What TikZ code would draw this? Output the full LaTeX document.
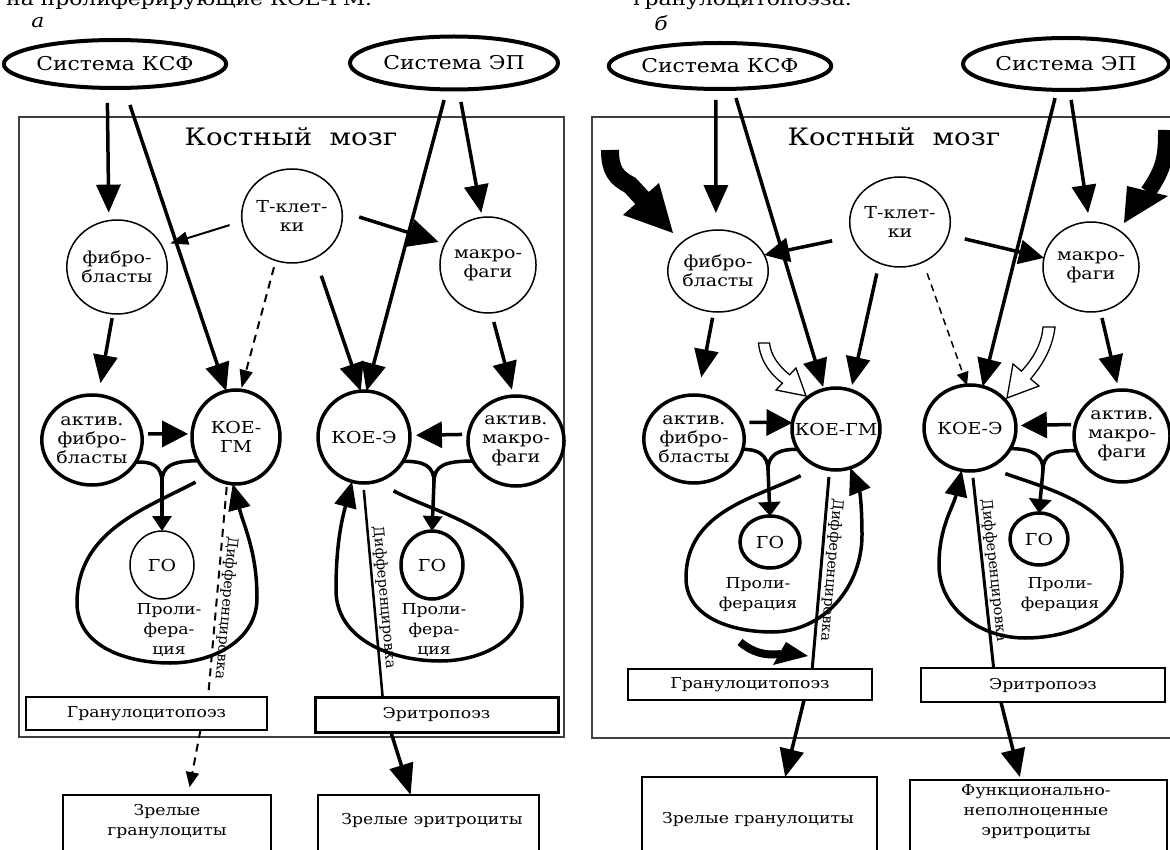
\documentclass[tikz,border=0pt]{standalone}
\usepackage{fontspec}
\setmainfont[FakeStretch=1.15]{DejaVu Serif}
\newfontfamily\difffont[FakeStretch=1.0]{DejaVu Serif}
\usetikzlibrary{arrows.meta,shapes.geometric}

\newcommand{\sysfont}{\fontsize{19}{21}\selectfont}
\newcommand{\cellfont}{\fontsize{16.5}{19}\selectfont}
\newcommand{\boxfont}{\fontsize{15}{20}\selectfont}

\tikzset{
	sys/.style={ellipse, draw, line width=4pt, inner sep=0pt, outer sep=0pt, font=\sysfont},
	cell/.style={ellipse, draw, line width=1.5pt, inner sep=0pt, outer sep=0pt, align=center, font=\cellfont},
	bcell/.style={cell, line width=3.5pt},
	stagebox/.style={rectangle, draw, inner sep=0pt, outer sep=0pt, font=\boxfont},
	outbox/.style={rectangle, draw, anchor=north, inner sep=0pt, outer sep=0pt, minimum height=110pt},
	boxtext/.style={align=center, font=\boxfont},
	marrow/.style={line width=1.3pt, black!75},
	bigarr/.style={line width=3.5pt, -{Triangle[length=28pt,width=24pt]}},
	looparr/.style={line width=3.5pt, -{Triangle[length=26pt,width=22pt]}},
	forkarr/.style={line width=3.5pt, -{Triangle[length=15pt,width=19pt]}},
	forkline/.style={line width=3.5pt},
	thinarr/.style={line width=2pt, -{Triangle[length=18pt,width=13pt]}},
	dashline/.style={line width=2pt, dash pattern=on 8pt off 6pt},
	dasharr/.style={dashline, -{Triangle[length=18pt,width=13pt]}},
	diffline/.style={line width=3pt},
	difftext/.style={font=\difffont\fontsize{14.5}{16}\selectfont, sloped, allow upside down, above, inner sep=2pt},
}

\begin{document}
\begin{tikzpicture}[x=1pt, y=-1pt]
	%%%%% START %%%%%
	\useasboundingbox (0,0) rectangle (1170,850);
	
	%%%%% a %%%%%
	\node[anchor=base west, inner sep=0pt, font=\sysfont] (capA) at (6,6) {на пролиферирующие КОЕ-ГМ.};
	\node[font=\sysfont\itshape] (labA) at (38,23) {а};
	\node[sys, minimum width=209pt, minimum height=48pt] (ksfA) at (115,64) {Система КСФ};
	\node[sys, minimum width=208pt, minimum height=53pt] (epA) at (454,63) {Система ЭП};
	
	\draw[marrow] (19,117) rectangle (564,737);
	\node[font=\fontsize{24}{26}\selectfont] (bmA) at (291,137) {Костный~ мозг};
	
	\node[cell, minimum width=92pt, minimum height=94pt] (tA) at (292,216) {Т-клет-\\ки};
	\node[cell, minimum width=90pt, minimum height=94pt] (fibA) at (117,267) {фибро-\\бласты};
	\node[cell, minimum width=92pt, minimum height=96pt] (macA) at (488,265) {макро-\\фаги};
	\node[bcell, minimum width=88pt, minimum height=94pt] (cfuGA) at (236,437) {КОЕ-\\ГМ};
	\node[bcell, minimum width=94pt, minimum height=90pt] (afibA) at (92,440) {актив.\\фибро-\\бласты};
	\node[bcell, minimum width=88pt, minimum height=92pt] (cfuEA) at (364,437) {КОЕ-Э};
	\node[bcell, minimum width=96pt, minimum height=90pt] (amacA) at (516,441) {актив.\\макро-\\фаги};
	\node[cell, minimum width=64pt, minimum height=68pt] (goGA) at (162,565) {ГО};
	\node[bcell, minimum width=62pt, minimum height=68pt] (goEA) at (432,565) {ГО};
	\node[boxtext] (prolGA) at (169,630) {Проли-\\фера-\\ция};
	\node[boxtext] (prolEA) at (434,630) {Проли-\\фера-\\ция};
	
	\node[stagebox, line width=1.8pt, minimum width=241pt, minimum height=33pt] (granA) at (146.5,713.5) {Гранулоцитопоэз};
	\node[stagebox, line width=3pt, minimum width=243pt, minimum height=35pt] (eryA) at (436.5,714.5) {Эритропоэз};
	\node[outbox, line width=1.2pt, minimum width=208pt] (matGA) at (167,795) {};
	\node[boxtext] (matGAt) at (167,822) {Зрелые\\гранулоциты};
	\node[outbox, line width=2.5pt, minimum width=221pt] (matEA) at (428.5,795) {};
	\node[boxtext] (matEAt) at (432,820) {Зрелые эритроциты};
	
	\draw[bigarr, shorten <=15pt, shorten >=8pt] (ksfA.-108) -- (fibA.100);
	\draw[bigarr, shorten <=18pt] (ksfA.-69) -- (cfuGA.102);
	\draw[thinarr, shorten <=13pt, shorten >=8.6pt] (tA.186) -- (fibA.25);
	\draw[bigarr, -{Triangle[length=30pt,width=28pt]}, shorten <=18pt, shorten >=6.5pt] (tA.5) -- (macA.154);
	\draw[bigarr, shorten <=11pt] (epA.-105) -- (cfuEA.87);
	\draw[bigarr, shorten <=12.7pt, shorten >=4.5pt] (epA.-80) -- (macA.97.6);
	\draw[bigarr, shorten <=19pt] (tA.-61) -- (cfuEA.94);
	\draw[dasharr, shorten <=7pt, shorten >=2.4pt] (tA.-110) -- (cfuGA.84.5);
	\draw[bigarr, shorten <=4.4pt, shorten >=12.4pt] (fibA.-95) -- (afibA.82.5);
	\draw[bigarr, shorten <=9.4pt, shorten >=6.5pt] (macA.-86) -- (amacA.93.2);
	\draw[bigarr, -{Triangle[length=26pt,width=26pt]}, shorten <=6.4pt, shorten >=4pt] (afibA.7.3) -- (cfuGA.176);
	\draw[bigarr, -{Triangle[length=26pt,width=26pt]}, shorten <=6.4pt, shorten >=6pt] (amacA.172.8) -- (cfuEA.2.6);
	
	\coordinate (forkGA) at (162,482);
	\draw[forkline] (afibA.-27) .. controls (152,461) and (162,466) .. (forkGA);
	\draw[forkline] (cfuGA.-148) .. controls (172,461) and (162,466) .. (forkGA);
	\draw[forkarr] (forkGA) -- (goGA.north);
	\coordinate (forkEA) at (434,482);
	\draw[forkline] (cfuEA.-32) .. controls (424,461) and (434,466) .. (forkEA);
	\draw[forkline] (amacA.-155) .. controls (444,461) and (434,466) .. (forkEA);
	\draw[forkarr] (forkEA) -- (goEA.north);
	
	\draw[looparr, shorten <=16pt] (cfuGA.-125) to[out=-152,in=90] (77,603) to[out=-90,in=180] (170,663) to[out=0,in=-90] (257,598) to[out=90,in=-75] (cfuGA.-94);
	\draw[looparr, shorten <=20pt] (cfuEA.-75) to[out=-28,in=90] (522,603) to[out=-90,in=0] (440,661) to[out=180,in=-90] (336,590) to[out=90,in=-105] (cfuEA.-105);
	
	\draw[dashline, shorten <=4pt] (cfuGA.-101) -- node[difftext, pos=0.58] {Дифференцировка} (granA.15.3);
	\draw[dasharr, -{Triangle[length=15pt,width=13pt]}, shorten >=8pt] (granA.-17.4) -- (matGA.69.1);
	\draw[diffline, line width=2.5pt, shorten <=7pt] (cfuEA.-91) -- node[difftext, pos=0.54] {Дифференцировка} (eryA.162);
	\draw[bigarr, -{Triangle[length=31pt,width=24pt]}] (eryA.-159) -- (matEA.108.6);
	
	%%%%% b %%%%%
	\node[anchor=base west, inner sep=0pt, font=\sysfont] (capB) at (633,6) {гранулоцитопоэза.};
	\node[font=\sysfont\itshape] (labB) at (661,23) {б};
	\node[sys, minimum width=211pt, minimum height=46pt] (ksfB) at (720,66) {Система КСФ};
	\node[sys, minimum width=206pt, minimum height=52pt] (epB) at (1066,64) {Система ЭП};
	
	\draw[marrow] (592,117) rectangle (1200,738);
	\node[font=\fontsize{24}{26}\selectfont] (bmB) at (894,137) {Костный~ мозг};
	
	\node[cell, minimum width=94pt, minimum height=90pt] (tB) at (900,222) {Т-клет-\\ки};
	\node[cell, minimum width=93pt, minimum height=82pt] (fibB) at (718,271) {фибро-\\бласты};
	\node[cell, minimum width=92pt, minimum height=90pt] (macB) at (1091,267) {макро-\\фаги};
	\node[bcell, minimum width=88pt, minimum height=82pt] (cfuGB) at (836,429) {\makebox[0pt]{КОЕ-ГМ}};
	\node[bcell, minimum width=94pt, minimum height=88pt] (afibB) at (694,439) {актив.\\фибро-\\бласты};
	\node[bcell, minimum width=90pt, minimum height=86pt] (cfuEB) at (970,428) {КОЕ-Э};
	\node[bcell, minimum width=94pt, minimum height=92pt] (amacB) at (1122,436) {актив.\\макро-\\фаги};
	\node[bcell, minimum width=60pt, minimum height=52pt] (goGB) at (770,542) {ГО};
	\node[bcell, minimum width=58pt, minimum height=52pt] (goEB) at (1039,539) {ГО};
	\node[boxtext] (prolGB) at (758,595) {Проли-\\ферация};
	\node[boxtext] (prolEB) at (1060,595) {Проли-\\ферация};
	
	\node[stagebox, line width=2.5pt, minimum width=244pt, minimum height=31pt] (granB) at (750,684.5) {Гранулоцитопоэз};
	\node[stagebox, line width=2.5pt, minimum width=244pt, minimum height=34pt] (eryB) at (1043,685) {Эритропоэз};
	\node[outbox, line width=2.5pt, minimum width=235pt] (matGB) at (759.5,777) {};
	\node[boxtext] (matGBt) at (758,820) {Зрелые гранулоциты};
	\node[outbox, line width=2.5pt, minimum width=257pt] (fnB) at (1038.5,780) {};
	\node[boxtext] (fnBt) at (1036,812) {Функционально-\\неполноценные\\эритроциты};
	
	\draw[bigarr, shorten <=11pt, shorten >=17pt] (ksfB.-100) -- (fibB.93);
	\draw[bigarr, shorten <=9.6pt, shorten >=2.6pt] (ksfB.-60.5) -- (cfuGB.107.2);
	\draw[bigarr, -{Triangle[length=25pt,width=24pt]}, shorten <=20.7pt] (tB.197) -- (fibB.19);
	\draw[bigarr, -{Triangle[length=25pt,width=24pt]}, shorten <=17pt] (tB.-15.2) -- (macB.169);
	\draw[bigarr, shorten <=8.4pt] (epB.-109) -- (cfuEB.73.3);
	\draw[bigarr, shorten <=10pt, shorten >=9pt] (epB.-82.3) -- (macB.92);
	\draw[bigarr, shorten <=10.8pt, shorten >=5.5pt] (tB.-117) -- (cfuGB.69);
	\draw[line width=1.5pt, dash pattern=on 7pt off 5pt, -{Triangle[length=13pt,width=12pt]}, shorten <=12pt] (tB.-60) -- (cfuEB.94);
	\draw[bigarr, shorten <=6pt, shorten >=18pt] (fibB.-96.7) -- (afibB.85);
	\draw[bigarr, shorten <=7pt, shorten >=7pt] (macB.-78) -- (amacB.94.2);
	\draw[bigarr, -{Triangle[length=26pt,width=26pt]}, shorten <=9pt] (afibB.20) -- (cfuGB.172);
	\draw[bigarr, -{Triangle[length=26pt,width=26pt]}, shorten <=4.4pt, shorten >=5pt] (amacB.166.4) -- (cfuEB.3.8);
	
	\coordinate (forkGB) at (768,470);
	\draw[forkline] (afibB.-12) .. controls (758,449) and (768,455) .. (forkGB);
	\draw[forkline] (cfuGB.-152) .. controls (778,449) and (768,455) .. (forkGB);
	\draw[forkarr, -{Triangle[length=14pt,width=22pt]}] (forkGB) -- (goGB.north);
	\coordinate (forkEB) at (1043,470);
	\draw[forkline] (cfuEB.-27) .. controls (1033,449) and (1043,455) .. (forkEB);
	\draw[forkline] (amacB.-162) .. controls (1053,450) and (1043,455) .. (forkEB);
	\draw[forkarr, -{Triangle[length=14pt,width=22pt]}] (forkEB) -- (goEB.north);
	
	\draw[looparr, shorten <=20pt] (cfuGB.-115) to[out=-153,in=90] (686,578) to[out=-90,in=180] (772,632) to[out=0,in=-90] (862,535) to[out=90,in=-68] (cfuGB.-70);
	\draw[looparr, shorten <=18pt] (cfuEB.-65) to[out=-20,in=90] (1122,572) to[out=-90,in=0] (1025,638) to[out=180,in=-90] (939,565) to[out=90,in=-103] (cfuEB.-101);
	
	\draw[diffline, shorten <=7.5pt] (cfuGB.-99.5) -- node[difftext, pos=0.5] {Дифференцировка} (granB.14.5);
	\draw[bigarr] (granB.-16.3) -- (matGB.65.1);
	\draw[diffline, shorten <=7pt] (cfuEB.-87.7) -- node[difftext, pos=0.51] {Дифференцировка} (eryB.161.6);
	\draw[bigarr, shorten >=3pt] (eryB.-158.9) -- (fnB.108.6);
	
	% black and open swooshes
	\draw[line width=18pt] (610,150) .. controls (610,170) and (616,178) .. (630,185) -- (643,199);
	\fill (623,215) -- (673,233) -- (659,183) -- cycle;
	\draw[line width=16pt] (1166,130) .. controls (1166,155) and (1165,168) .. (1148,192);
	\fill (1127,186) -- (1124,223) -- (1168,196) -- cycle;
	\draw[line width=8pt] (740,642) .. controls (752,652) and (764,656) .. (781,654);
	\fill (773,665) -- (808,656) -- (786,642) -- cycle;
	\filldraw[fill=white, line width=1.3pt] (758.5,343) .. controls (760,360) and (770,374) .. (782.4,383.2) -- (776,390) -- (806,396) -- (796,368) -- (789.6,374.8) .. controls (779,366) and (771,356) .. (769.5,343) -- cycle;
	\filldraw[fill=white, line width=1.3pt] (1013,364) -- (1007,398) -- (1039,386) -- (1030.6,378.9) .. controls (1045,362) and (1053,345) .. (1055,327) -- (1043,327) .. controls (1042,342) and (1034,358) .. (1021.4,371.1) -- cycle;
	%%%%% END %%%%%
\end{tikzpicture}
\end{document}
